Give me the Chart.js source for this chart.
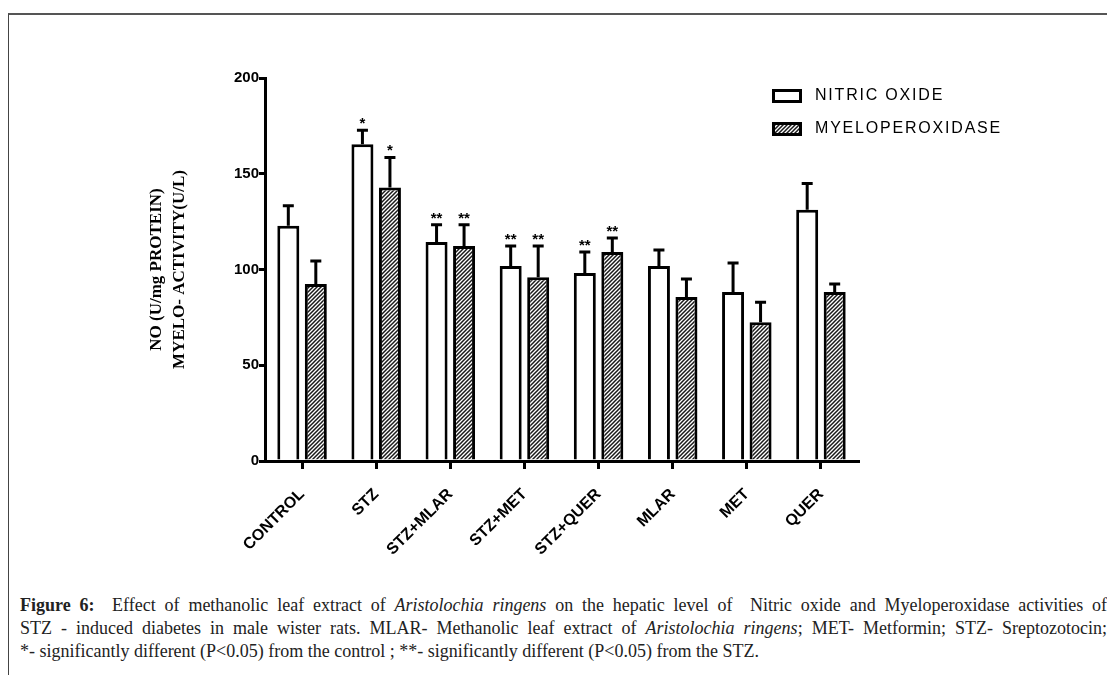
<!DOCTYPE html>
<html>
<head>
<meta charset="utf-8">
<script src="https://cdn.jsdelivr.net/npm/chart.js@4.4.1/dist/chart.umd.min.js"></script>
<style>
    body { margin: 0; background: #fff; width: 1107px; height: 675px; overflow: hidden; position: relative; }
    .frame { position: absolute; left: 8px; top: 13px; right: 0; bottom: 0; border-top: 2px solid #555; border-left: 1.5px solid #444; }
    #chartWrap { position: absolute; left: 0; top: 0; width: 1107px; height: 580px; }
    .caption { position: absolute; left: 20px; top: 594px; width: 1087px; font-family: 'Liberation Serif', 'DejaVu Serif', serif; font-size: 18px; line-height: 23px; color: #222; }
    .caption div { white-space: nowrap; }
    .caption .jl { text-align: justify; text-align-last: justify; white-space: normal; }
    .caption b { font-weight: bold; }
</style>
</head>
<body>
<div class="frame"></div>
<div id="chartWrap"><canvas id="noChart" width="1107" height="580"></canvas></div>
<div class="caption">
    <div class="jl"><b>Figure 6:</b>&nbsp; Effect of methanolic leaf extract of <i>Aristolochia ringens</i> on the hepatic level of&nbsp; Nitric oxide and Myeloperoxidase activities of</div>
    <div class="jl">STZ - induced diabetes in male wister rats. MLAR- Methanolic leaf extract of <i>Aristolochia ringens</i>; MET- Metformin; STZ- Sreptozotocin;</div>
    <div>*- significantly different (P&lt;0.05) from the control ; **- significantly different (P&lt;0.05) from the STZ.</div>
</div>
<script>
// 그룹 / 값
const groups = ['CONTROL', 'STZ', 'STZ+MLAR', 'STZ+MET', 'STZ+QUER', 'MLAR', 'MET', 'QUER'];
const noValues = [122.8, 165.4, 114.4, 101.8, 98.2, 101.8, 88.2, 131.2];
const noErrTop = [133.3, 172.7, 123.4, 112.3, 109.2, 110.2, 103.4, 144.9];
const mpoValues = [92.4, 142.8, 112.3, 96.0, 109.2, 85.6, 72.4, 88.2];
const mpoErrTop = [104.5, 158.5, 123.4, 112.3, 116.5, 95.0, 82.9, 92.4];
const noStars = ['', '*', '**', '**', '**', '', '', ''];
const mpoStars = ['', '*', '**', '**', '**', '', '', ''];
const yTicks = [0, 50, 100, 150, 200];
const yTitle = ['NO (U/mg PROTEIN)', 'MYELO- ACTIVITY(U/L)'];
const seriesNames = ['NITRIC OXIDE', 'MYELOPEROXIDASE'];

// 빗금 패턴
function makeHatch() {
    const c = document.createElement('canvas');
    c.width = 4; c.height = 4;
    const g = c.getContext('2d');
    g.fillStyle = '#fff';
    g.fillRect(0, 0, 4, 4);
    g.strokeStyle = '#1a1a1a';
    g.lineWidth = 1.5;
    g.beginPath();
    g.moveTo(-1, 5); g.lineTo(5, -1);
    g.moveTo(-1, 1); g.lineTo(1, -1);
    g.moveTo(3, 5); g.lineTo(5, 3);
    g.stroke();
    return g.createPattern(c, 'repeat');
}
const hatch = makeHatch();

const errorBarPlugin = {
    id: 'errorBars',
    afterDatasetsDraw(chart) {
        const ctx = chart.ctx;
        const yScale = chart.scales.y;
        const tops = [noErrTop, mpoErrTop];
        const stars = [noStars, mpoStars];
        ctx.save();
        ctx.strokeStyle = '#000';
        ctx.lineWidth = 3;
        chart.data.datasets.forEach((ds, i) => {
            const meta = chart.getDatasetMeta(i);
            meta.data.forEach((bar, j) => {
                const yTop = yScale.getPixelForValue(tops[i][j]);
                ctx.beginPath();
                ctx.moveTo(bar.x, bar.y);
                ctx.lineTo(bar.x, yTop);
                ctx.moveTo(bar.x - 5.5, yTop);
                ctx.lineTo(bar.x + 5.5, yTop);
                ctx.stroke();
                if (stars[i][j]) {
                    ctx.fillStyle = '#000';
                    ctx.font = 'bold 15px "Liberation Sans", Arial, sans-serif';
                    ctx.textAlign = 'center';
                    ctx.textBaseline = 'alphabetic';
                    ctx.fillText(stars[i][j], bar.x, yTop - 2);
                }
            });
        });
        ctx.restore();
    }
};

const legendPlugin = {
    id: 'boxLegend',
    afterDraw(chart) {
        const ctx = chart.ctx;
        const rows = [{ y: 96, fill: '#fff' }, { y: 129, fill: hatch }];
        ctx.save();
        rows.forEach((r, i) => {
            ctx.fillStyle = r.fill;
            ctx.fillRect(772, r.y - 7, 30, 14);
            ctx.strokeStyle = '#000';
            ctx.lineWidth = 3;
            ctx.strokeRect(773.5, r.y - 5.5, 27, 11);
            ctx.fillStyle = '#000';
            ctx.font = '16px "Liberation Sans", Arial, sans-serif';
            ctx.letterSpacing = '1.8px';
            ctx.textAlign = 'left';
            ctx.textBaseline = 'middle';
            ctx.fillText(seriesNames[i], 815, r.y);
        });
        ctx.restore();
    }
};

window.noChart = new Chart(document.getElementById('noChart'), {
    type: 'bar',
    data: {
        labels: groups,
        datasets: [
            { label: seriesNames[0], data: noValues, backgroundColor: '#fff', borderColor: '#000', borderWidth: 3, categoryPercentage: 0.742, barPercentage: 0.8 },
            { label: seriesNames[1], data: mpoValues, backgroundColor: hatch, borderColor: '#000', borderWidth: 3, categoryPercentage: 0.742, barPercentage: 0.8 }
        ]
    },
    options: {
        responsive: false,
        animation: false,
        layout: { padding: { left: 0, right: 249, top: 78, bottom: 0 } },
        plugins: { legend: { display: false }, tooltip: { enabled: false } },
        scales: {
            x: {
                offset: true,
                grid: { offset: false, drawOnChartArea: false, drawTicks: true, tickLength: 8, color: '#000', lineWidth: 3 },
                border: { display: true, color: '#000', width: 3 },
                ticks: { autoSkip: false, minRotation: 45, maxRotation: 45, padding: 16, color: '#000', font: { family: '"Liberation Sans", Arial, sans-serif', size: 16, weight: 'bold' } },
                afterFit: s => { s.height = 119; }
            },
            y: {
                min: 0, max: 200,
                afterBuildTicks: s => { s.ticks = yTicks.map(v => ({ value: v })); },
                grid: { drawOnChartArea: false, drawTicks: true, tickLength: 6, color: '#000', lineWidth: 3 },
                border: { display: true, color: '#000', width: 3 },
                ticks: { padding: 0, color: '#000', font: { family: '"Liberation Sans", Arial, sans-serif', size: 15, weight: 'bold' } },
                title: { display: true, text: yTitle, color: '#000', padding: { top: 145, bottom: 0 }, font: { family: '"Liberation Serif", "Times New Roman", serif', size: 17, weight: 'bold', lineHeight: 1.35 } },
                afterFit: s => { s.width = 265; }
            }
        }
    },
    plugins: [errorBarPlugin, legendPlugin]
});
</script>
</body>
</html>
